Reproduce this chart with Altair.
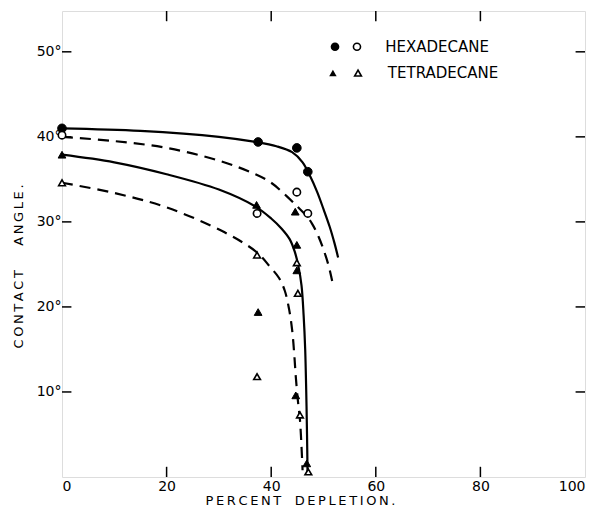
import altair as alt
import pandas as pd

# ---- data ----
hex_solid_x = [0, 15, 30, 37, 41, 44, 46, 47.5, 48.8, 50, 51.2, 52.1, 52.8]
hex_solid_y = [41.0, 40.7, 40.0, 39.4, 38.9, 38.2, 37.0, 35.3, 33.5, 31.5, 29.4, 27.5, 25.8]
hex_dash_x = [0, 10, 20, 30, 37, 40, 43, 45, 46.6, 47.8, 49.1, 50.2, 51.0, 51.5, 51.8]
hex_dash_y = [40.0, 39.5, 38.7, 37.2, 35.6, 34.6, 33.0, 31.8, 30.8, 29.8, 28.2, 26.4, 24.8, 23.5, 22.6]
tet_solid_x = [0, 10, 20, 30, 37, 40, 42, 43.5, 44.5, 45.2, 45.8, 46.2, 46.5, 46.7, 46.85, 46.95]
tet_solid_y = [37.9, 37.0, 35.6, 33.8, 31.8, 30.4, 29.2, 28.0, 26.5, 24.8, 22.5, 19, 15, 10, 5, 0.3]
tet_dash_x = [0, 10, 20, 31, 37.3, 39.8, 41.5, 42.6, 43.4, 44, 44.4, 44.7, 45.1, 45.5, 45.8, 46]
tet_dash_y = [34.6, 33.4, 31.7, 28.8, 26.4, 24.7, 23.4, 21.9, 19.8, 17.3, 14.5, 11.8, 9.0, 6.7, 3.5, 0.8]

hex_fill_x = [0, 37.5, 44.9, 47.0]
hex_fill_y = [41.0, 39.4, 38.7, 35.9]
hex_open_x = [0, 37.3, 44.9, 47.0]
hex_open_y = [40.2, 31.0, 33.5, 31.0]
tet_fill_x = [0, 37.2, 44.6, 44.9, 44.9, 37.5, 44.7, 46.8]
tet_fill_y = [37.9, 32.0, 31.2, 27.3, 24.3, 19.4, 9.6, 1.6]
tet_open_x = [0, 37.3, 44.9, 45.1, 37.3, 45.5, 47.1]
tet_open_y = [34.6, 26.1, 25.2, 21.6, 11.8, 7.3, 0.6]

x_ticks = [20, 40, 60, 80]
y_ticks = [10, 20, 30, 40, 50]
x_labels = [0, 20, 40, 60, 80, 100]

legend_names = ["HEXADECANE", "TETRADECANE"]
legend_y = [50.6, 47.5]
legend_sym1_x = [52.2, 51.8]
legend_sym2_x = [56.4, 56.6]
legend_text_x = [61.8, 62.3]

XMAX = 100
YMAX = 54.8

FONT = "DejaVu Sans"
TS = "\u2009"  # thin space used for the letter-spaced lettering


def spaced(s):
    return TS.join("\u00a0\u00a0" if c == " " else c for c in s)


xs = alt.Scale(domain=[0, XMAX], nice=False, zero=False)
ys = alt.Scale(domain=[0, YMAX], nice=False, zero=False)


def curve_df(xv, yv, name):
    return pd.DataFrame({"x": xv, "y": yv, "series": name, "order": range(len(xv))})


curves = pd.concat([
    curve_df(hex_solid_x, hex_solid_y, "hex_solid"),
    curve_df(hex_dash_x, hex_dash_y, "hex_dash"),
    curve_df(tet_solid_x, tet_solid_y, "tet_solid"),
    curve_df(tet_dash_x, tet_dash_y, "tet_dash"),
])

X = alt.X("x:Q", scale=xs,
          axis=alt.Axis(values=x_labels, ticks=False, domain=False, grid=False,
                        labelFont=FONT, labelFontSize=14, labelColor="black",
                        labelPadding=2, title=spaced("PERCENT DEPLETION."),
                        titleFont=FONT, titleFontSize=13, titleFontWeight="normal",
                        titleColor="black", titlePadding=1, titleX=238))
Y = alt.Y("y:Q", scale=ys,
          axis=alt.Axis(values=y_ticks, ticks=False, domain=False, grid=False,
                        labelFont=FONT, labelFontSize=14, labelColor="black",
                        labelExpr="datum.value + '°'", labelPadding=1,
                        title=spaced("CONTACT  ANGLE."), titleFont=FONT, titleFontSize=13,
                        titleFontWeight="normal", titleColor="black", titlePadding=11,
                        titleY=255))


def line_layer(name, dash):
    d = curves[curves.series == name]
    kw = {"strokeDash": dash} if dash else {}
    return alt.Chart(d).mark_line(color="black", strokeWidth=2.2,
                                  interpolate="catmull-rom", **kw).encode(
        x=alt.X("x:Q", scale=xs), y=alt.Y("y:Q", scale=ys), order="order:Q")


lines = [
    line_layer("hex_solid", None),
    line_layer("hex_dash", [11, 7]),
    line_layer("tet_solid", None),
    line_layer("tet_dash", [11, 7]),
]


def pts(xv, yv, shape, filled, size):
    d = pd.DataFrame({"x": xv, "y": yv})
    if filled:
        m = alt.Chart(d).mark_point(shape=shape, filled=True, fill="black",
                                    stroke="black", strokeWidth=1, size=size, opacity=1)
    else:
        m = alt.Chart(d).mark_point(shape=shape, filled=False, fill="white",
                                    stroke="black", strokeWidth=1.6, size=size, opacity=1)
    return m.encode(x=alt.X("x:Q", scale=xs), y=alt.Y("y:Q", scale=ys))


points = [
    pts(hex_fill_x, hex_fill_y, "circle", True, 75),
    pts(hex_open_x, hex_open_y, "circle", False, 55),
    pts(tet_fill_x, tet_fill_y, "triangle-up", True, 60),
    pts(tet_open_x, tet_open_y, "triangle-up", False, 45),
]

# inward ticks on all four sides
bt = pd.DataFrame({"x": x_ticks, "y": 0.0, "y2": 1.2})
tt = pd.DataFrame({"x": x_ticks, "y": YMAX, "y2": YMAX - 1.2})
lt = pd.DataFrame({"y": y_ticks, "x": 0.0, "x2": 1.8})
rt = pd.DataFrame({"y": y_ticks, "x": float(XMAX), "x2": XMAX - 1.8})
tick_layers = [
    alt.Chart(bt).mark_rule(color="black", strokeWidth=1.5).encode(
        x=alt.X("x:Q", scale=xs), y=alt.Y("y:Q", scale=ys), y2="y2:Q"),
    alt.Chart(tt).mark_rule(color="black", strokeWidth=1.5).encode(
        x=alt.X("x:Q", scale=xs), y=alt.Y("y:Q", scale=ys), y2="y2:Q"),
    alt.Chart(lt).mark_rule(color="black", strokeWidth=1.5).encode(
        x=alt.X("x:Q", scale=xs), x2="x2:Q", y=alt.Y("y:Q", scale=ys)),
    alt.Chart(rt).mark_rule(color="black", strokeWidth=1.5).encode(
        x=alt.X("x:Q", scale=xs), x2="x2:Q", y=alt.Y("y:Q", scale=ys)),
]

# legend
leg = pd.DataFrame({"name": legend_names, "y": legend_y, "x1": legend_sym1_x,
                    "x2s": legend_sym2_x, "xt": legend_text_x})
leg_hex = leg[leg.name == "HEXADECANE"]
leg_tet = leg[leg.name == "TETRADECANE"]
legend_layers = [
    alt.Chart(leg_hex).mark_point(shape="circle", filled=True, fill="black", size=75, opacity=1).encode(
        x=alt.X("x1:Q", scale=xs), y=alt.Y("y:Q", scale=ys)),
    alt.Chart(leg_hex).mark_point(shape="circle", filled=False, stroke="black", strokeWidth=1.6, size=50, opacity=1).encode(
        x=alt.X("x2s:Q", scale=xs), y=alt.Y("y:Q", scale=ys)),
    alt.Chart(leg_tet).mark_point(shape="triangle-up", filled=True, fill="black", size=55, opacity=1).encode(
        x=alt.X("x1:Q", scale=xs), y=alt.Y("y:Q", scale=ys)),
    alt.Chart(leg_tet).mark_point(shape="triangle-up", filled=False, stroke="black", strokeWidth=1.6, size=45, opacity=1).encode(
        x=alt.X("x2s:Q", scale=xs), y=alt.Y("y:Q", scale=ys)),
    alt.Chart(leg).mark_text(font=FONT, fontSize=15, align="left", baseline="middle", color="black").encode(
        x=alt.X("xt:Q", scale=xs), y=alt.Y("y:Q", scale=ys), text="name:N"),
]

base = alt.Chart(curves).mark_point(opacity=0).encode(x=X, y=Y)

chart = alt.layer(base, *tick_layers, *lines, *points, *legend_layers).properties(
    width=523, height=466,
    autosize=alt.AutoSizeParams(type="none"),
    padding={"left": 54, "top": 3, "right": 9, "bottom": 34},
).configure_view(stroke="black", strokeWidth=1.6).configure(background="white")

chart.save("out.html", embed_options={"renderer": "svg", "actions": False})
